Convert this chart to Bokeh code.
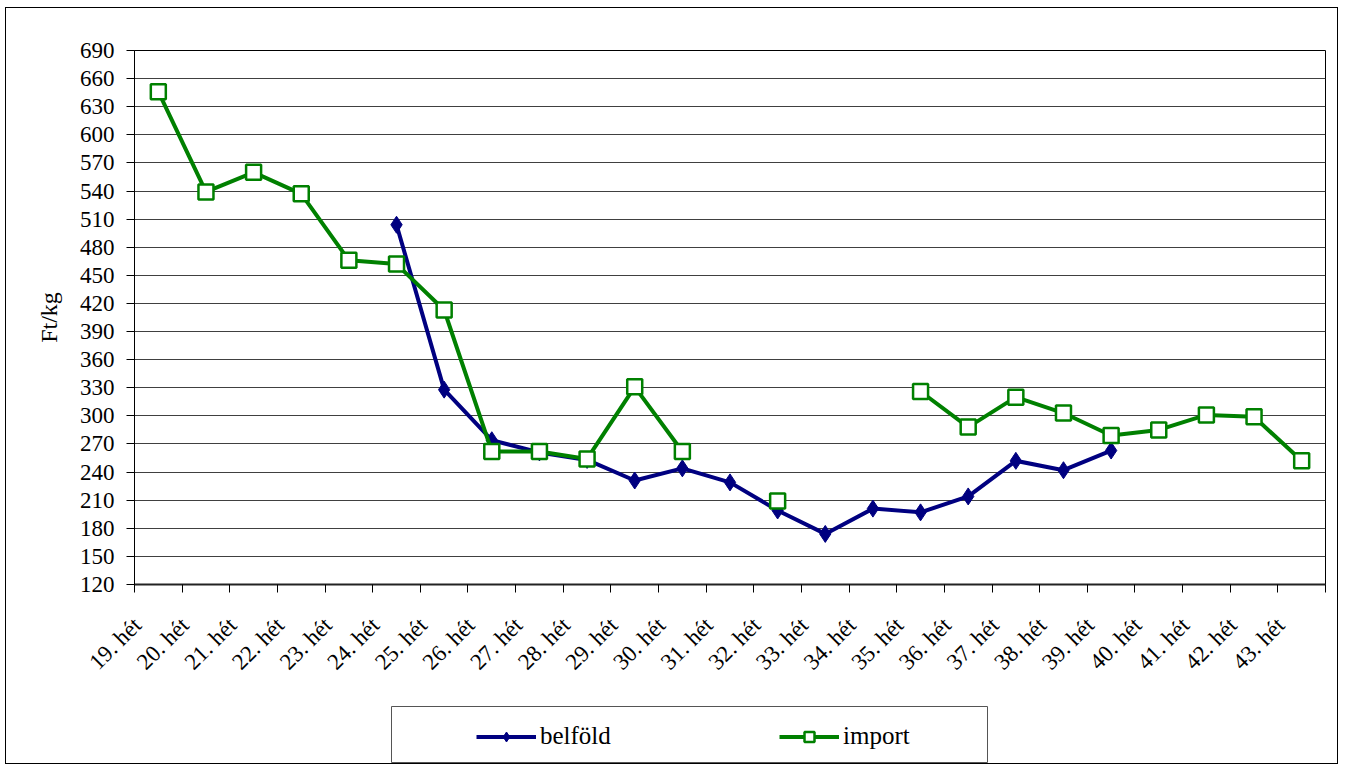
import numpy as np
from bokeh.plotting import figure
from bokeh.layouts import column, row
from bokeh.models import (ColumnDataSource, Range1d, FixedTicker, Legend, LegendItem, Spacer,
                          InlineStyleSheet)
from bokeh.embed import file_html
from bokeh.resources import INLINE

weeks = ["19. hét", "20. hét", "21. hét", "22. hét", "23. hét", "24. hét", "25. hét",
         "26. hét", "27. hét", "28. hét", "29. hét", "30. hét", "31. hét", "32. hét",
         "33. hét", "34. hét", "35. hét", "36. hét", "37. hét", "38. hét", "39. hét",
         "40. hét", "41. hét", "42. hét", "43. hét"]

belfold = [None, None, None, None, None, 504, 328, 274, 261, 253, 231, 244, 229, 199,
           174, 201, 197, 214, 252, 242, 263, None, None, None, None]

import_ = [646, 539, 560, 537, 466, 462, 413, 262, 262, 254, 331, 262, None, 209,
           None, None, 326, 288, 320, 303, 279, 285, 301, 299, 252]

y_ticks = list(range(120, 691, 30))

FONT = "Liberation Serif"
NAVY = "#000080"
GREEN = "#008000"

serif_css = InlineStyleSheet(css="""
:host, svg, text, tspan { font-family: 'Liberation Serif', 'Times New Roman', serif !important; }
""")

xpos = [i + 0.5 for i in range(len(weeks))]
src = ColumnDataSource(dict(
    x=xpos,
    b=np.array(belfold, dtype=float),
    im=np.array(import_, dtype=float),
))

p = figure(width=1331, height=698, output_backend="svg", toolbar_location=None,
           x_range=Range1d(0, len(weeks)), y_range=Range1d(y_ticks[0], y_ticks[-1]),
           frame_width=1191, frame_height=534,
           min_border_left=128, min_border_right=12, min_border_top=42, min_border_bottom=122)
p.stylesheets = [serif_css]
p.background_fill_color = "white"
p.border_fill_color = "white"
p.outline_line_color = "black"
p.outline_line_width = 1

# y axis
p.yaxis.ticker = FixedTicker(ticks=y_ticks)
p.yaxis.axis_label = "Ft/kg"
p.yaxis.axis_label_text_font = FONT
p.yaxis.axis_label_text_font_size = "24px"
p.yaxis.axis_label_text_font_style = "normal"
p.yaxis.axis_label_text_color = "black"
p.yaxis.axis_label_standoff = 15
p.yaxis.major_label_text_font = FONT
p.yaxis.major_label_text_font_size = "23px"
p.yaxis.major_label_text_color = "black"
p.yaxis.major_label_standoff = 12
p.yaxis.major_tick_out = 8
p.yaxis.major_tick_in = 0
p.yaxis.minor_tick_line_color = None
p.yaxis.axis_line_color = "black"
p.yaxis.major_tick_line_color = "black"

# x axis: labels under category centres, ticks on category boundaries
label_shift = 0.44
p.xaxis.ticker = FixedTicker(ticks=[x - label_shift for x in xpos],
                             minor_ticks=list(range(len(weeks) + 1)))
p.xaxis.major_label_overrides = {x - label_shift: w for x, w in zip(xpos, weeks)}
p.xaxis.major_label_orientation = np.pi / 4
p.xaxis.major_label_text_font = FONT
p.xaxis.major_label_text_font_size = "23px"
p.xaxis.major_label_text_color = "black"
p.xaxis.major_label_standoff = 29
p.xaxis.major_tick_out = 0
p.xaxis.major_tick_in = 0
p.xaxis.minor_tick_out = 8
p.xaxis.minor_tick_in = 0
p.xaxis.minor_tick_line_color = "black"
p.xaxis.axis_line_color = "#222222"
p.xaxis.axis_line_width = 2

p.xgrid.grid_line_color = None
p.ygrid.grid_line_color = "#404040"
p.ygrid.grid_line_width = 1

# series
p.line("x", "b", source=src, line_color=NAVY, line_width=4)
p.scatter("x", "b", source=src, marker="diamond", size=17, fill_color=NAVY, line_color=NAVY)
p.line("x", "im", source=src, line_color=GREEN, line_width=4)
p.scatter("x", "im", source=src, marker="square", size=15,
          fill_color="white", line_color=GREEN, line_width=2.5)

# legend in its own bordered box (renderers there only carry the legend styling)
lf = figure(width=597, height=57, output_backend="svg", toolbar_location=None,
            x_axis_location=None, y_axis_location=None, min_border=0,
            x_range=Range1d(0, 1), y_range=Range1d(0, 1))
lf.stylesheets = [serif_css]
lf.grid.grid_line_color = None
lf.outline_line_color = "#555555"
lf.outline_line_width = 1
lf.background_fill_color = "white"
lf.border_fill_color = "white"


def dummy():
    return ColumnDataSource(dict(x=[np.nan], y=[np.nan]))


lb = lf.line(x="x", y="y", source=dummy(), line_color=NAVY, line_width=4)
mb = lf.scatter(x="x", y="y", source=dummy(), marker="diamond", size=17,
                fill_color=NAVY, line_color=NAVY)
li = lf.line(x="x", y="y", source=dummy(), line_color=GREEN, line_width=4)
mi = lf.scatter(x="x", y="y", source=dummy(), marker="square", size=15,
                fill_color="white", line_color=GREEN, line_width=2.5)
legend = Legend(items=[LegendItem(label="belföld", renderers=[lb, mb]),
                       LegendItem(label="import", renderers=[li, mi])],
                orientation="horizontal", location=(85, 13),
                border_line_alpha=0, background_fill_alpha=0, padding=0, margin=0,
                glyph_width=60, glyph_height=25, label_height=25, label_width=150,
                label_standoff=4, spacing=89,
                label_text_font=FONT, label_text_font_size="25px", label_text_color="black")
lf.add_layout(legend, "center")

layout = column(p, row(Spacer(width=385, height=57), lf),
                styles={"border": "1px solid black", "margin-left": "5px", "margin-top": "7px",
                        "background-color": "white"},
                stylesheets=[serif_css])

open("out.html", "w").write(file_html(layout, INLINE))
